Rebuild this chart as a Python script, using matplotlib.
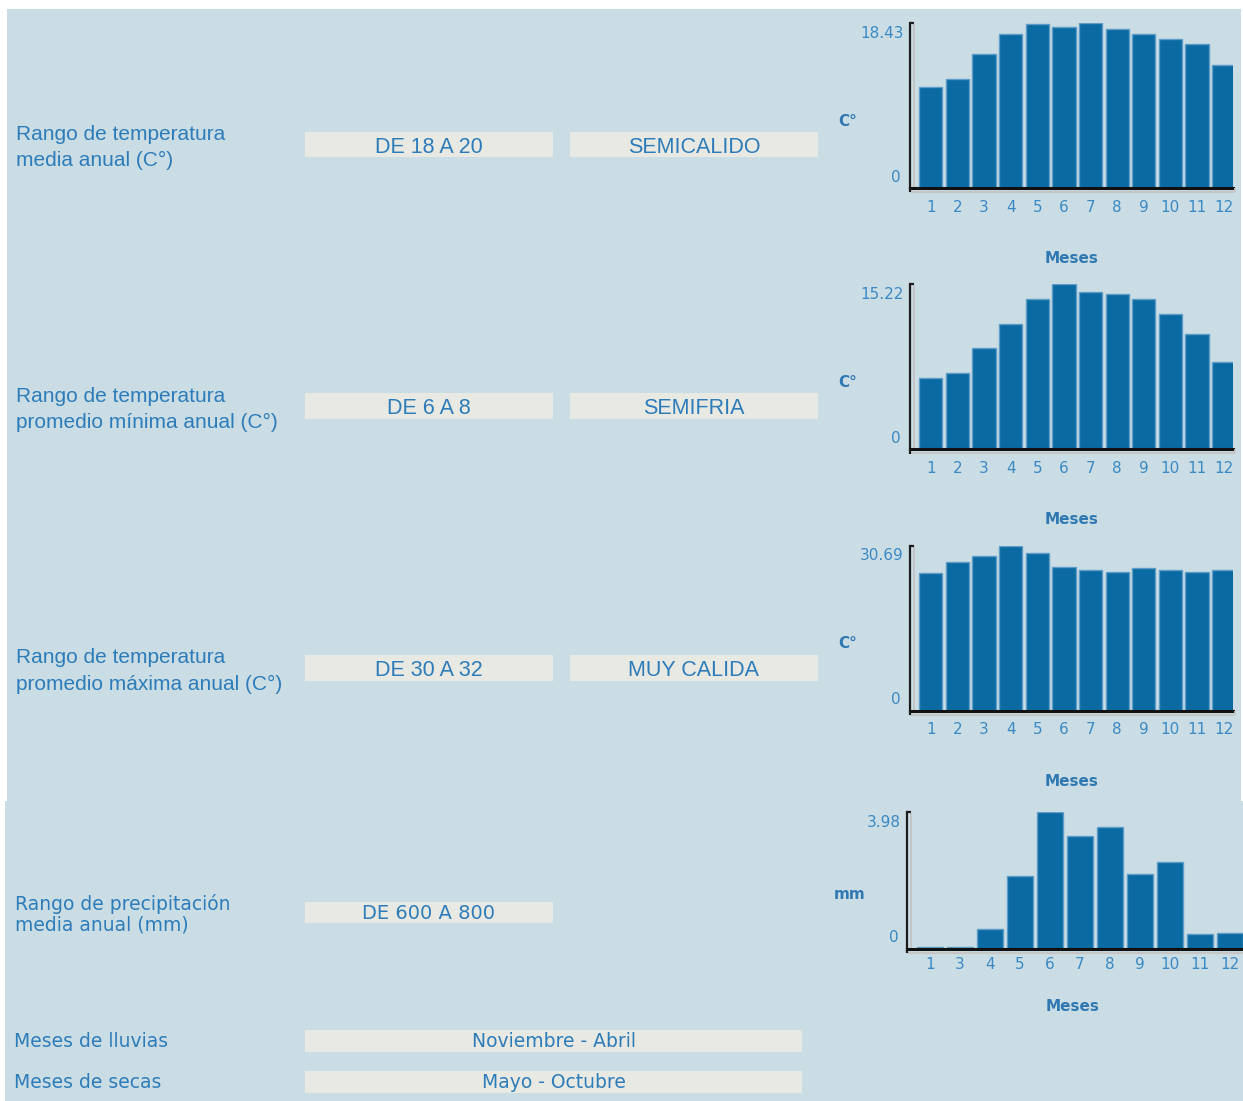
import matplotlib
matplotlib.use("Agg")
import matplotlib.pyplot as plt
from matplotlib.patches import Rectangle
from matplotlib.lines import Line2D
from matplotlib.transforms import offset_copy

# ---------------- data ----------------
months = ["1", "2", "3", "4", "5", "6", "7", "8", "9", "10", "11", "12"]
temp_media = [11.26, 12.19, 14.97, 17.20, 18.28, 17.91, 18.43, 17.72, 17.20, 16.61, 16.09, 13.67]
temp_min = [6.55, 7.01, 9.31, 11.58, 13.87, 15.22, 14.49, 14.33, 13.87, 12.49, 10.66, 8.08]
temp_max = [25.49, 27.66, 28.83, 30.69, 29.21, 26.73, 26.11, 25.80, 26.42, 26.11, 25.80, 26.11]
precip_months = ["1", "3", "4", "5", "6", "7", "8", "9", "10", "11", "12"]
precip = [0.05, 0.05, 0.57, 2.12, 3.98, 3.27, 3.54, 2.16, 2.51, 0.42, 0.455]

row_labels = [
    ["Rango de temperatura", "media anual (C°)"],
    ["Rango de temperatura", "promedio mínima anual (C°)"],
    ["Rango de temperatura", "promedio máxima anual (C°)"],
]
row_ranges = ["DE 18 A 20", "DE 6 A 8", "DE 30 A 32"]
row_classes = ["SEMICALIDO", "SEMIFRIA", "MUY CALIDA"]
precip_label = ["Rango de precipitación", "media anual (mm)"]
precip_range = "DE 600 A 800"
season_labels = ["Meses de lluvias", "Meses de secas"]
season_values = ["Noviembre - Abril", "Mayo - Octubre"]
y_units = ["C°", "C°", "C°"]
precip_unit = "mm"
x_title = "Meses"

# ---------------- style ----------------
W, H = 1243, 1101
BG = "#cadde4"
BAR = "#0a6aa1"
EDGE = "#5d9cc6"
TXT = "#2d7cb9"
TICK = "#3a89c4"
BOLD_TXT = "#2f78b2"
BOX = "#e8e9e3"

fig = plt.figure(figsize=(W / 100, H / 100), dpi=100)
fig.patch.set_facecolor("white")


def frect(x0, y0, x1, y1, color, z=0):
    fig.add_artist(Rectangle((x0 / W, 1 - y1 / H), (x1 - x0) / W, (y1 - y0) / H,
                             transform=fig.transFigure, facecolor=color,
                             edgecolor="none", zorder=z))


def fline(xs, ys, color, lw):
    fig.add_artist(Line2D([x / W for x in xs], [1 - y / H for y in ys],
                          transform=fig.transFigure, color=color, lw=lw, zorder=5,
                          solid_capstyle="butt"))


def ftext(x, y, s, **kw):
    fig.text(x / W, 1 - y / H, s, **kw)


# panels
frect(7, 9, 1241, 801, BG)
frect(5, 801, 1243, 1101, BG)

# left text rows
for i, (lines, rng, cls) in enumerate(zip(row_labels, row_ranges, row_classes)):
    yc = 144.5 + i * 261.7
    ftext(16, yc - 4.5, lines[0], family="Liberation Sans", fontsize=15, color=TXT,
          ha="left", va="baseline")
    ftext(16, yc + 22.0, lines[1], family="Liberation Sans", fontsize=15, color=TXT,
          ha="left", va="baseline")
    frect(305, yc - 12.8, 553, yc + 12.8, BOX, z=1)
    frect(570, yc - 12.8, 818, yc + 12.8, BOX, z=1)
    ftext(429, yc + 8.3, rng, family="Liberation Sans", fontsize=15.5, color=TXT,
          ha="center", va="baseline")
    ftext(694, yc + 8.3, cls, family="Liberation Sans", fontsize=15.5, color=TXT,
          ha="center", va="baseline")

LOW_FS = 13.5

# precipitation row
ftext(15, 909.7, precip_label[0], family="DejaVu Sans", fontsize=LOW_FS, color=TXT,
      ha="left", va="baseline")
ftext(15, 930.7, precip_label[1], family="DejaVu Sans", fontsize=LOW_FS, color=TXT,
      ha="left", va="baseline")
frect(305, 902, 553, 923, BOX, z=1)
ftext(428, 919.3, precip_range, family="DejaVu Sans", fontsize=14, color=TXT,
      ha="center", va="baseline")

# seasons
for j, (lab, val) in enumerate(zip(season_labels, season_values)):
    yb = 1047.4 + j * 41
    ftext(14, yb, lab, family="DejaVu Sans", fontsize=LOW_FS, color=TXT,
          ha="left", va="baseline")
    frect(305, yb - 17, 802, yb + 4.5, BOX, z=1)
    ftext(553.5, yb, val, family="DejaVu Sans", fontsize=LOW_FS, color=TXT,
          ha="center", va="baseline")


def chart(cats, vals, x0, x1, ytop, ybot, left_units, right_units, width, unit,
          unit_x, unit_y, title_x, title_dy, pad, clipped_right):
    ax = fig.add_axes([x0 / W, 1 - ybot / H, (x1 - x0) / W, (ybot - ytop) / H])
    ax.set_facecolor("none")
    pos = list(range(len(cats)))
    ax.bar(pos, vals, width=width, color=BAR, edgecolor=EDGE, linewidth=1.0, zorder=2)
    ax.set_xlim(-left_units, len(cats) - 1 + right_units)
    top = max(vals)
    ax.set_ylim(0, top)
    for s in ["top", "right"]:
        ax.spines[s].set_visible(False)
    ax.spines["left"].set_color("#1c1c1c")
    ax.spines["left"].set_linewidth(1.6)
    ax.spines["bottom"].set_color("#111111")
    ax.spines["bottom"].set_linewidth(2.2)
    ax.spines["bottom"].set_zorder(3)
    ax.set_yticks([])
    ax.set_xticks(pos)
    ax.set_xticklabels(cats, family="DejaVu Sans", fontsize=11, color=TICK)
    ax.tick_params(axis="x", length=0, pad=pad)
    # y labels (max and zero)
    tr_top = offset_copy(ax.transAxes, fig=fig, x=-6, y=-10.5, units="dots")
    tr_bot = offset_copy(ax.transAxes, fig=fig, x=-9, y=10.7, units="dots")
    ax.text(0, 1, f"{top:.2f}", transform=tr_top, ha="right", va="center",
            family="DejaVu Sans", fontsize=11, color=TICK)
    ax.text(0, 0, "0", transform=tr_bot, ha="right", va="center",
            family="DejaVu Sans", fontsize=11, color=TICK)
    # frame decorations
    fline([x0 + 3.5, x0 + 3.5], [ytop + 1, ybot - 1], "#c2c2c2", 1.3)
    fline([x0, x1 + 2], [ybot + 4, ybot + 4], "#c6c6c6", 1.6)
    fline([x0, x0 + 4], [ytop, ytop], "#1c1c1c", 1.6)
    fline([x0, x0], [ybot, ybot + 4.5], "#1c1c1c", 1.6)
    if not clipped_right:
        fline([x1 + 2, x1 + 2], [ybot, ybot + 4.5], "#c6c6c6", 1.3)
    # unit and title
    ftext(unit_x, (ytop + ybot) / 2 + unit_y, unit, family="DejaVu Sans", fontsize=11,
          fontweight="bold", color=BOLD_TXT, ha="center", va="center")
    ftext(title_x, ybot + title_dy, x_title,
          family="DejaVu Sans", fontsize=11, fontweight="bold", color=BOLD_TXT,
          ha="center", va="center")
    return ax


series = [temp_media, temp_min, temp_max]
for i, vals in enumerate(series):
    ytop = 22.7 + i * 261.4
    ybot = 187.7 + i * 261.4
    chart(months, vals, 910, 1233, ytop, ybot, 0.78, 0.35, 0.875, y_units[i],
          848, 16, 1072, 70.5, 8.5, False)

chart(precip_months, precip, 907.3, 1243, 811.7, 948.7, 0.757, 0.43, 0.889,
      precip_unit, 850, 14, 1073, 58, 6.2, True)

fig.savefig("out.png", dpi=100, facecolor=fig.get_facecolor())
